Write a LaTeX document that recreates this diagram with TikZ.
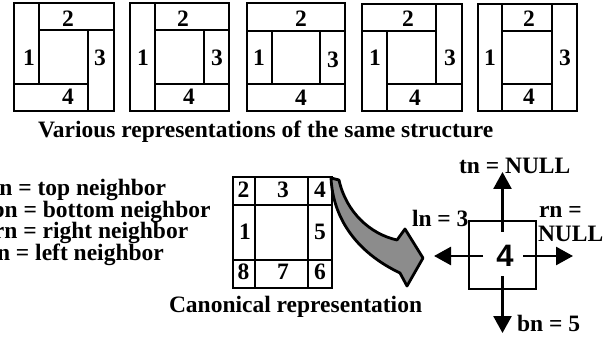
\documentclass[tikz,border=0pt]{standalone}
\usepackage{fontspec}
\setmainfont{Liberation Serif}
\newfontfamily\foursans{Liberation Sans}
\usetikzlibrary{arrows.meta}
\tikzset{
  txt/.style={inner sep=0pt, outer sep=0pt, font=\fontsize{23.5}{24}\selectfont\bfseries},
  dig/.style={txt, anchor=base},
  outerbox/.style={line width=1.9pt},
  innerline/.style={line width=1.6pt},
  nbarrow/.style={line width=2.6pt, -{Triangle[length=17pt,width=18pt]}},
}
\begin{document}
\begin{tikzpicture}[x=1pt,y=-1pt]
\useasboundingbox (0,0) rectangle (613,339);

% ---- Box 1
\draw[outerbox] (14,3) rectangle (114,111);
\draw[innerline] (39,3) -- (39,84) (39,30) -- (114,30) (88,30) -- (88,111) (14,84) -- (88,84);
\node[dig] (b1n2) at (68,26.5) {2};
\node[dig] (b1n1) at (29,65.5) {1};
\node[dig] (b1n3) at (100,65.5) {3};
\node[dig] (b1n4) at (68,105) {4};

% ---- Box 2
\draw[outerbox] (130,3) rectangle (229,111);
\draw[innerline] (155,3) -- (155,111) (155,30) -- (229,30) (204,30) -- (204,84) (155,84) -- (229,84);
\node[dig] (b2n2) at (183,26.5) {2};
\node[dig] (b2n1) at (143,65.5) {1};
\node[dig] (b2n3) at (217,65.5) {3};
\node[dig] (b2n4) at (189,105) {4};

% ---- Box 3
\draw[outerbox] (247,3) rectangle (345,111);
\draw[innerline] (247,31) -- (345,31) (247,84) -- (345,84) (272,31) -- (272,84) (320,31) -- (320,84);
\node[dig] (b3n2) at (301,26.5) {2};
\node[dig] (b3n1) at (259,66) {1};
\node[dig] (b3n3) at (333,68) {3};
\node[dig] (b3n4) at (301,105.5) {4};

% ---- Box 4
\draw[outerbox] (362,4) rectangle (462,111);
\draw[innerline] (436,4) -- (436,84) (362,31) -- (436,31) (387,31) -- (387,111) (387,84) -- (462,84);
\node[dig] (b4n2) at (408,26.5) {2};
\node[dig] (b4n1) at (375,66) {1};
\node[dig] (b4n3) at (450,66) {3};
\node[dig] (b4n4) at (415,105.5) {4};

% ---- Box 5
\draw[outerbox] (478,4) rectangle (577,111);
\draw[innerline] (502,4) -- (502,111) (552,4) -- (552,111) (502,31) -- (552,31) (502,84) -- (552,84);
\node[dig] (b5n2) at (529,26.5) {2};
\node[dig] (b5n1) at (490,66) {1};
\node[dig] (b5n3) at (565,66) {3};
\node[dig] (b5n4) at (529,105) {4};

% ---- Caption 1
\node[txt, anchor=base west] (cap1) at (38,138) {Various representations of the same structure};

% ---- Legend
\node[txt, anchor=base west] (lg1) at (-8.5,195.5) {tn = top neighbor};
\node[txt, anchor=base west] (lg2) at (-8.5,217.5) {bn = bottom neighbor};
\node[txt, anchor=base west] (lg3) at (-6,239) {rn = right neighbor};
\node[txt, anchor=base west] (lg4) at (-9.5,260.5) {ln = left neighbor};

% ---- Canonical grid
\draw[outerbox] (233,177) rectangle (332,288);
\draw[innerline] (255,177) -- (255,288) (308,177) -- (308,288) (233,205) -- (332,205) (233,260) -- (332,260);
\node[dig] (c2) at (243.5,197.5) {2};
\node[dig] (c3) at (283,197.5) {3};
\node[dig] (c4) at (320,197.5) {4};
\node[dig] (c1) at (245,240) {1};
\node[dig] (c5) at (320,240) {5};
\node[dig] (c8) at (243.5,279) {8};
\node[dig] (c7) at (283,279) {7};
\node[dig] (c6) at (320,279) {6};
\node[txt, anchor=base west] (cap2) at (169,312) {Canonical representation};

% ---- Gray swoosh arrow
\filldraw[fill=black!45, line width=2.8pt, line join=round]
  (331,178) .. controls (333,218) and (356,252) .. (400,273)
  -- (407,286) -- (423,258) -- (405,229) -- (397,240)
  .. controls (370,234) and (346,212) .. (339,180) -- cycle;

% ---- Neighbor diagram
\node[draw, line width=2pt, minimum width=67pt, minimum height=68pt, inner sep=0pt] (sq) at (502.5,255) {};
\node[inner sep=0pt, font=\foursans\bfseries\fontsize{31}{31}\selectfont] (four) at (505,256) {4};
\coordinate (upS) at (502.5,232);
\coordinate (upE) at (502.5,172);
\coordinate (lfS) at (483,256);
\coordinate (lfE) at (434,256);
\coordinate (rtS) at (523,256);
\coordinate (rtE) at (573,256);
\coordinate (dnS) at (502.5,276);
\coordinate (dnE) at (502.5,333);
\draw[nbarrow] (upS) -- (upE);
\draw[nbarrow] (lfS) -- (lfE);
\draw[nbarrow] (rtS) -- (rtE);
\draw[nbarrow] (dnS) -- (dnE);
\node[txt, anchor=base west] (tnl) at (459,174) {tn = NULL};
\node[txt, anchor=base west] (lnl) at (412,226) {ln = 3};
\node[txt, anchor=base west] (rnl1) at (539,218) {rn =};
\node[txt, anchor=base west] (rnl2) at (538,241) {NULL};
\node[txt, anchor=base west] (bnl) at (517,331) {bn = 5};
\end{tikzpicture}
\end{document}
